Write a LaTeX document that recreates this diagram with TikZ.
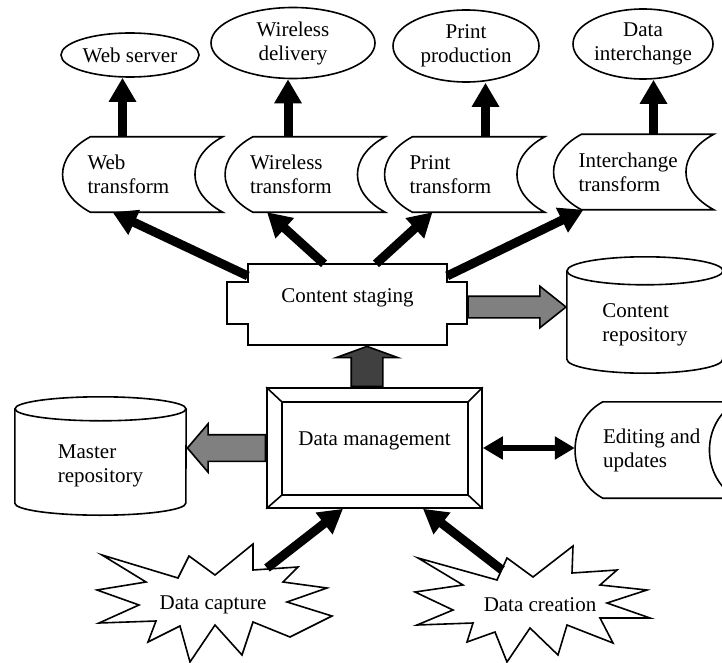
\documentclass[tikz,border=0pt]{standalone}
\usepackage{fontspec}
\setmainfont{Liberation Serif}
\usetikzlibrary{shapes.geometric, shapes.arrows, arrows.meta, positioning, calc}

\begin{document}
\begin{tikzpicture}[x=1pt, y=-1pt,
    every node/.style={font=\fontsize{21}{24}\selectfont},
    outline/.style={line width=1.6pt},
    oval/.style={ellipse, draw, outline, align=center, inner sep=0pt},
    store/.style={rectangle, minimum width=160pt, minimum height=75pt, text width=110pt, align=flush left, inner sep=0pt},
    drum/.style={rectangle, align=flush left, inner sep=0pt},
    fatarrow/.style={single arrow, draw, outline, anchor=tail},
    bigarrow/.style={-{Triangle[length=24pt, width=26pt]}, line width=9pt},
    biarrow/.style={{Triangle[length=20pt, width=22pt]}-{Triangle[length=20pt, width=22pt]}, line width=6pt}
]
\useasboundingbox (0,0) rectangle (722,663);

% delivery channels
\node[oval, minimum width=138pt, minimum height=44pt] (ws) at (130,55) {Web server};
\node[oval, minimum width=164pt, minimum height=71pt] (wd) at (293,43) {Wireless\\delivery};
\node[oval, minimum width=146pt, minimum height=72pt] (pp) at (466,46) {Print\\production};
\node[oval, minimum width=140pt, minimum height=70pt] (di) at (643,44) {Data\\interchange};

% transforms
\node[store] (webtf) at (142.5,174.5) {Web\\transform};
\node[store] (wltf) at (305,174.5) {Wireless\\transform};
\node[store] (prtf) at (464.5,174.5) {Print\\transform};
\node[store] (ictf) at (633.5,172) {Interchange\\transform};
\node[store, minimum width=162pt, minimum height=96pt, text width=106pt] (edit) at (656,450) {Editing and\\updates};

\foreach \t in {webtf, wltf, prtf, ictf, edit}
    \draw[outline] ($(\t.north west)+(28,0)$) -- (\t.north east)
        .. controls ($(\t.north east)+(-37,20)$) and ($(\t.south east)+(-37,-20)$) .. (\t.south east)
        -- ($(\t.south west)+(28,0)$)
        .. controls ($(\t.south west)+(-9,-20)$) and ($(\t.north west)+(-9,20)$) .. cycle;

% staging and management
\node[minimum width=199pt, minimum height=81pt, text depth=18pt] (cs) at (347.5,304.5) {Content staging};
\draw[outline] (cs.north west) -- (cs.north east) -- ++(0,18) -- ++(20,0) -- ++(0,42) -- ++(-20,0)
    -- (cs.south east) -- (cs.south west) -- ++(0,-21) -- ++(-21,0) -- ++(0,-42) -- ++(21,0) -- cycle;

\node[draw, outline, minimum width=215pt, minimum height=120pt, text depth=18pt] (dm) at (374.5,448) {Data management};
\draw[outline] ([shift={(16,15)}]dm.north west) rectangle ([shift={(-15,-14)}]dm.south east);
\draw[outline] (dm.north west) -- ([shift={(16,15)}]dm.north west);
\draw[outline] (dm.north east) -- ([shift={(-15,15)}]dm.north east);
\draw[outline] (dm.south east) -- ([shift={(-15,-14)}]dm.south east);
\draw[outline] (dm.south west) -- ([shift={(16,-14)}]dm.south west);

% repositories
\node[drum, minimum width=156pt, minimum height=116pt, text height=58pt] (crep) at (645,315) {Content\\repository};
\node[drum, minimum width=171pt, minimum height=118pt, text height=57pt] (mrep) at (100.5,456) {Master\\repository};
\foreach \r/\rx/\ry in {crep/78/14, mrep/85.5/12} {
    \draw[outline] ($(\r.north)+(0,\ry)$) ellipse [x radius=\rx pt, y radius=\ry pt];
    \draw[outline] ($(\r.north west)+(0,\ry)$) -- ($(\r.south west)+(0,-\ry)$)
        arc [start angle=180, end angle=360, x radius=\rx pt, y radius=\ry pt] -- ($(\r.north east)+(0,\ry)$);
}

% sources
\node (dcap) at (213,605) {Data capture};
\node (dcre) at (540,605) {Data creation};
\draw[outline, shift={(dcap.center)}] (-111,-50) -- (-35,-27) -- (-24,-49) -- (2,-30) -- (40,-61) -- (40,-35)
    -- (85,-38) -- (70,-23) -- (114,-17) -- (74,-3) -- (119,11) -- (77,32) -- (40,17) -- (29,50)
    -- (2,20) -- (-23,57) -- (-33,21) -- (-65,37) -- (-57,16) -- (-114,18) -- (-74,0) -- (-116,-15)
    -- (-67,-23) -- cycle;
\draw[outline, shift={(dcre.center)}] (-122,-47) -- (-43,-25) -- (-33,-47) -- (-7,-28) -- (33,-59) -- (32,-32)
    -- (77,-35) -- (60,-20) -- (107,-15) -- (67,-2) -- (110,13) -- (60,13) -- (73,38) -- (27,20)
    -- (18,50) -- (-10,23) -- (-33,57) -- (-45,27) -- (-73,37) -- (-67,18) -- (-123,20) -- (-87,5)
    -- (-125,-13) -- (-77,-20) -- cycle;

% connectors
\foreach \t/\e/\dx in {webtf/ws/-20, wltf/wd/-17, prtf/pp/21, ictf/di/20}
    \draw[bigarrow] ([xshift=\dx pt]\t.north) coordinate (p0) -- (p0 |- \e.south);
\foreach \a/\t/\dx in {164/webtf/-30, 120/wltf/-38, 55/prtf/-32, 16/ictf/-50}
    \draw[bigarrow] (cs.\a) -- ([xshift=\dx pt]\t.south);

\node[fatarrow, fill=gray, inner sep=10pt, minimum height=98pt, single arrow head extend=10pt,
    single arrow tip angle=77] (csout) at ($(cs.east)+(20,2.5)$) {};
\node[fatarrow, fill=black!75, shape border rotate=90, inner sep=15pt, minimum height=40pt,
    single arrow head extend=15pt, single arrow tip angle=140] (dmup) at ([xshift=-7.5pt]dm.north) {};
\node[fatarrow, fill=gray, shape border rotate=180, inner sep=12.5pt, minimum height=78pt,
    single arrow head extend=11pt, single arrow tip angle=99] (dmout) at (dm.west) {};

\draw[biarrow] (dm.east) -- (dm.east -| edit.west);
\draw[bigarrow] ([shift={(54,-37)}]dcap.center) -- ([xshift=-31.5pt]dm.south);
\draw[bigarrow] ([shift={(-38,-35)}]dcre.center) -- ([xshift=48.5pt]dm.south);

\end{tikzpicture}
\end{document}
